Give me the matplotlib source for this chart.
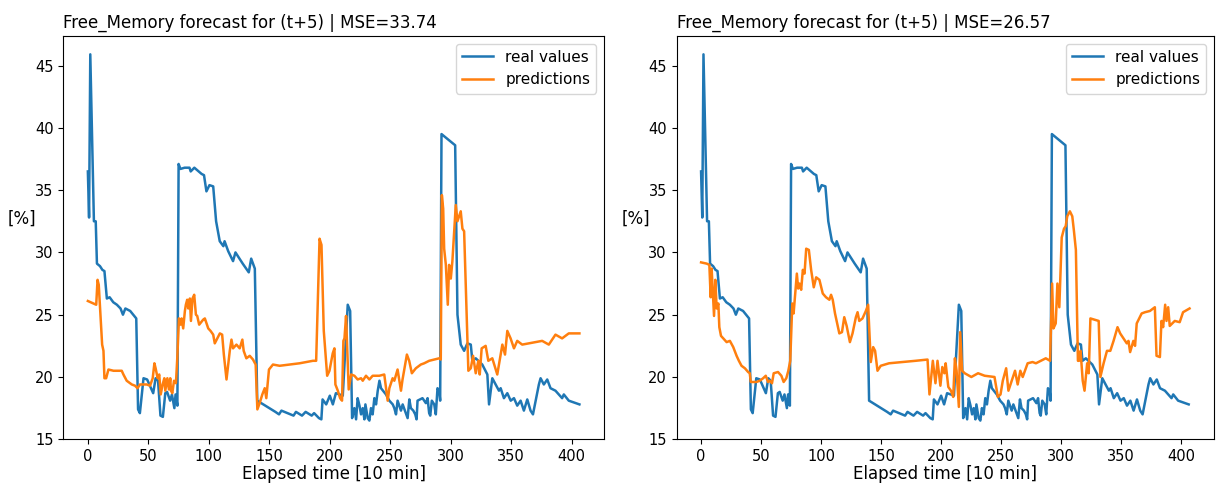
import matplotlib
matplotlib.use("Agg")
import matplotlib.pyplot as plt

# Elapsed time [10 min] and free memory [%] (real values, shared by both panels)
real_t = [0, 1, 2, 5, 6.5, 7.5, 10, 12, 13.7, 15.7, 18, 21, 24, 27, 29, 31, 35, 40,
          41.5, 43, 46, 49, 54, 56, 58, 60, 62, 64, 65.5, 68, 69.5, 71.5, 72.5, 74,
          75, 76.5, 80, 84, 85, 88, 94, 96, 98, 100.5, 103.6, 106, 109, 112, 113, 116,
          120, 122, 128, 133, 135, 138, 140, 145, 150, 155, 158, 160, 165, 170, 172,
          177, 180, 185, 187, 191, 193, 194, 197, 200, 202.5, 205, 208, 210.7, 214.8,
          216.8, 218.4, 220.3, 221.7, 223, 224.5, 225.8, 227.2, 228.6, 229.4, 231.3,
          232.7, 234, 235.4, 236.8, 238.2, 239.6, 241, 242.3, 246.4, 249.2, 252, 253.3,
          254.7, 256, 258.8, 260.2, 264.3, 265.7, 267, 269, 270.6, 271.7, 272.5, 276.6,
          279.4, 280.8, 282.1, 283, 284.3, 286.3, 287.6, 289, 290.4, 291.2, 292.3,
          303.6, 305.5, 308.2, 311, 313.7, 316.5, 317.8, 320.6, 326, 330.2, 331.6,
          334.3, 337, 339.8, 341.2, 343.9, 346.7, 349.5, 352.2, 354.9, 357.7, 360.4,
          363.2, 365.9, 367.9, 372.8, 374.2, 376.9, 379.7, 382.4, 386.5, 392, 393.4,
          397.5, 406.3]
real_v = [36.5, 32.8, 45.9, 32.5, 32.5, 29.1, 28.9, 28.6, 28.5, 26.3, 26.4, 26.0, 25.8,
          25.5, 25.0, 25.5, 25.3, 24.7, 17.4, 17.1, 19.9, 19.8, 18.7, 19.9, 19.7, 16.9,
          16.8, 18.7, 18.8, 18.1, 18.6, 17.5, 18.6, 17.7, 37.1, 36.7, 36.8, 36.8, 36.5,
          36.8, 36.3, 36.2, 34.9, 35.4, 35.3, 32.5, 30.9, 30.5, 30.9, 30.1, 29.3, 30.0,
          29.1, 28.4, 29.5, 28.7, 18.1, 17.8, 17.5, 17.2, 17.0, 17.3, 17.1, 16.9, 17.2,
          16.9, 17.2, 16.9, 17.1, 16.7, 16.6, 18.2, 17.8, 18.5, 17.8, 18.7, 18.6, 18.5,
          25.8, 25.3, 16.7, 17.5, 16.6, 18.3, 17.7, 17.0, 17.5, 16.6, 17.8, 16.7, 16.5,
          17.5, 17.0, 18.3, 17.8, 18.9, 19.7, 19.1, 18.6, 18.1, 17.8, 17.5, 17.0, 18.1,
          17.3, 17.8, 16.7, 18.2, 17.5, 17.3, 17.0, 16.6, 18.1, 18.3, 17.9, 18.3, 17.1,
          16.9, 18.1, 17.8, 17.0, 19.1, 18.9, 18.1, 39.5, 38.6, 25.0, 22.6, 22.1, 22.7,
          22.6, 21.3, 21.5, 21.0, 20.2, 17.8, 19.9, 19.4, 18.9, 19.1, 18.3, 18.7, 18.1,
          18.3, 17.7, 18.1, 17.3, 18.2, 17.3, 17.0, 19.4, 19.9, 19.4, 19.8, 19.1, 18.9,
          18.3, 18.6, 18.1, 17.8]

# Predictions, left model (MSE=33.74)
pred1_t = [0, 4.7, 6.9, 8, 9, 11.8, 12.9, 13.7, 15.1, 17, 21.2, 28, 29.4, 32.1, 36.3,
           39, 41, 43.1, 48.6, 51.4, 53.6, 55, 56, 57.7, 59, 60.2, 61.8, 63.2, 64, 65.7,
           67, 68.1, 68.7, 69.8, 71.2, 72.8, 73.9, 75.3, 76.6, 77.5, 78.8, 80.2, 81,
           82.1, 83, 84.3, 85.2, 86.5, 87.9, 89.3, 90.4, 92, 95.3, 96.7, 99.5, 101.4,
           103.6, 104.9, 109.1, 111, 112.4, 114.6, 117.3, 118.7, 120, 122.8, 125.5,
           127.7, 128.8, 131, 133.8, 136.5, 138.7, 140.1, 142, 144.2, 146.2, 147.5,
           149.7, 153, 158.5, 166.8, 175, 186, 188.7, 191.5, 193.1, 195, 197.8, 199.7,
           202.4, 203.8, 204.6, 206.6, 208.5, 210.1, 211.2, 212.1, 213.4, 215.6, 217.6,
           220.3, 223, 225.8, 227.2, 229.9, 232.7, 235.4, 240.9, 245, 247.8, 249.2,
           251.9, 253.3, 256, 258.8, 260.1, 263.7, 265.6, 267.8, 271.1, 275.2, 278,
           282.1, 286.2, 290.4, 291.7, 292.6, 293.7, 294.5, 295.9, 297.5, 298.6, 300,
           301.3, 304.1, 305.5, 308.2, 309.6, 311, 314.5, 316.5, 318.4, 320.6, 322.8,
           323.9, 325.5, 328.8, 331, 334.3, 338.4, 342.6, 344.8, 346.7, 349.4, 352.2,
           354.9, 359, 364.5, 375.5, 381, 386.5, 392, 397.5, 406.3]
pred1_v = [26.1, 25.9, 25.8, 27.8, 27.4, 22.6, 22.1, 19.9, 19.9, 20.6, 20.5, 20.5, 20.2,
           19.7, 19.4, 19.3, 19.1, 19.4, 19.4, 19.3, 19.9, 21.1, 20.7, 19.9, 20.2, 18.6,
           19.4, 19.9, 18.9, 19.9, 19.0, 19.9, 18.9, 18.7, 19.7, 19.5, 21.5, 24.7, 24.2,
           24.7, 23.9, 25.3, 25.8, 26.2, 25.5, 26.3, 24.5, 26.3, 26.6, 25.0, 24.9, 24.2,
           24.6, 24.7, 23.9, 23.7, 23.4, 22.7, 23.5, 23.4, 21.8, 19.8, 22.1, 23.0, 22.3,
           22.6, 22.3, 23.0, 22.1, 21.5, 21.7, 21.4, 21.0, 17.4, 17.9, 18.6, 19.1, 18.3,
           20.6, 21.0, 20.9, 21.0, 21.1, 21.3, 21.3, 31.1, 30.6, 23.7, 20.1, 20.5, 21.9,
           22.3, 19.4, 18.9, 18.3, 18.1, 22.9, 23.1, 24.9, 19.0, 20.2, 20.1, 19.8, 19.9,
           19.7, 20.1, 19.8, 20.1, 20.1, 20.2, 18.1, 19.1, 19.9, 19.7, 20.6, 18.9, 19.8,
           21.8, 21.3, 20.3, 20.7, 21.0, 21.1, 21.3, 21.4, 21.5, 21.4, 34.6, 33.5, 30.3,
           29.0, 25.8, 29.0, 27.9, 29.3, 33.8, 32.5, 33.3, 31.9, 31.7, 20.5, 20.7, 21.7,
           20.3, 21.3, 20.2, 22.3, 22.5, 21.3, 21.5, 20.2, 22.6, 21.8, 23.7, 23.1, 22.3,
           22.9, 22.6, 22.7, 22.9, 22.6, 23.4, 23.1, 23.5, 23.5]

# Predictions, right model (MSE=26.57)
pred2_t = [0, 4.7, 6.9, 8, 8.8, 10.8, 11.9, 13, 14.4, 15.2, 16.6, 18.5, 21.3, 24, 26.8,
           29.6, 31.5, 33.7, 36.5, 39.2, 40.6, 41.4, 46.1, 48.9, 51.7, 53.9, 55.8, 57.2,
           59.1, 60.5, 64.1, 66.9, 68.8, 71, 72.7, 74.3, 76, 77.1, 78.7, 79.8, 80.9, 82,
           83.4, 84.8, 86.2, 87.6, 89.8, 91.7, 93.9, 95.9, 98.6, 101.4, 104.1, 106.9,
           108.3, 109.7, 111.6, 115.2, 117.4, 119.3, 121.3, 124, 126.2, 129, 130.4,
           131.8, 134.5, 137.3, 139.2, 141.4, 143.4, 145, 147, 149.7, 156.6, 167.7,
           178.7, 188.7, 190.3, 193.1, 195.3, 197, 199.4, 201, 202.7, 203.8, 206, 208.2,
           210.1, 211.5, 212.9, 214.8, 215.9, 217.5, 219.7, 225.2, 230.8, 236.3, 244.5,
           247.3, 249.5, 251.4, 254.2, 256.1, 261.6, 263.8, 266, 268, 272.1, 276.2, 279,
           283.1, 287.2, 290.8, 292.5, 293.6, 295.5, 296.9, 298.5, 300.5, 302.4, 303.8,
           305.1, 307.3, 309.3, 310.6, 312.3, 314, 315, 316.2, 318, 319.5, 321.7, 323,
           324.4, 331.3, 332.7, 335.4, 338.2, 341, 343.7, 347, 349.2, 354.7, 356.1,
           357.5, 360.2, 361.6, 363, 367.1, 369.9, 374, 378.1, 379.5, 382.3, 383.6, 385,
           386.7, 387.8, 389.2, 390.5, 394.7, 398.8, 401.6, 407]
pred2_v = [29.2, 29.1, 29.0, 26.4, 28.7, 24.9, 27.8, 25.5, 25.9, 24.0, 23.3, 23.1, 22.8,
           22.9, 22.4, 21.7, 21.3, 20.9, 20.7, 20.4, 20.3, 19.6, 19.6, 19.7, 19.9, 20.1,
           19.6, 19.7, 19.5, 20.3, 20.4, 20.1, 19.6, 19.9, 20.5, 21.3, 25.9, 25.1, 27.0,
           28.3, 27.1, 27.5, 27.0, 28.6, 28.3, 30.3, 30.2, 28.6, 27.2, 28.0, 27.8, 26.7,
           26.4, 26.2, 26.6, 26.2, 25.1, 23.5, 23.6, 24.8, 24.1, 22.8, 23.5, 24.8, 25.2,
           24.5, 24.7, 25.3, 25.8, 21.2, 22.4, 22.1, 20.5, 20.9, 21.1, 21.2, 21.3, 21.4,
           18.6, 21.3, 19.5, 21.3, 19.3, 20.8, 20.3, 21.1, 19.2, 18.9, 18.4, 21.5, 20.5,
           17.6, 23.6, 20.5, 20.3, 20.0, 20.3, 20.1, 20.0, 18.4, 18.6, 19.7, 20.7, 18.9,
           20.5, 19.4, 20.5, 20.0, 21.1, 21.2, 21.1, 21.3, 21.5, 21.3, 27.5, 23.9, 24.3,
           27.5, 25.6, 31.2, 31.9, 32.1, 32.9, 33.3, 32.9, 31.8, 30.2, 21.3, 21.3, 22.1,
           19.7, 18.9, 21.1, 20.3, 24.7, 24.5, 20.0, 21.1, 22.1, 22.1, 22.9, 24.0, 23.5,
           22.7, 22.9, 22.0, 22.9, 22.5, 24.3, 25.1, 25.2, 25.3, 25.6, 21.7, 21.6, 24.5,
           24.0, 25.8, 24.5, 25.6, 24.1, 24.5, 24.4, 25.2, 25.5]

titles = ["Free_Memory forecast for (t+5) | MSE=33.74",
          "Free_Memory forecast for (t+5) | MSE=26.57"]
legend_labels = ["real values", "predictions"]
xlabel = "Elapsed time [10 min]"
ylabel = "[%]"

fig = plt.figure(figsize=(12.17, 4.90), dpi=100)
positions = [[0.052, 0.1035, 0.4443, 0.823], [0.556, 0.1035, 0.4415, 0.823]]
preds = [(pred1_t, pred1_v), (pred2_t, pred2_v)]

for pos, (pt, pv), title in zip(positions, preds, titles):
    ax = fig.add_axes(pos)
    ax.plot(real_t, real_v, color="#1f77b4", lw=1.8, label=legend_labels[0])
    ax.plot(pt, pv, color="#ff7f0e", lw=1.8, label=legend_labels[1])
    ax.set_title(title, loc="left", fontsize=12)
    ax.set_xlabel(xlabel, fontsize=12, labelpad=1)
    ax.set_ylabel(ylabel, fontsize=12, rotation=0, ha="center", va="center")
    ax.yaxis.set_label_coords(-0.076, 0.546)
    ax.set_xticks([0, 50, 100, 150, 200, 250, 300, 350, 400])
    ax.set_yticks([15, 20, 25, 30, 35, 40, 45])
    ax.tick_params(labelsize=10.5)
    ax.legend(loc="upper right", fontsize=11)

fig.savefig("out.png", dpi=100)
